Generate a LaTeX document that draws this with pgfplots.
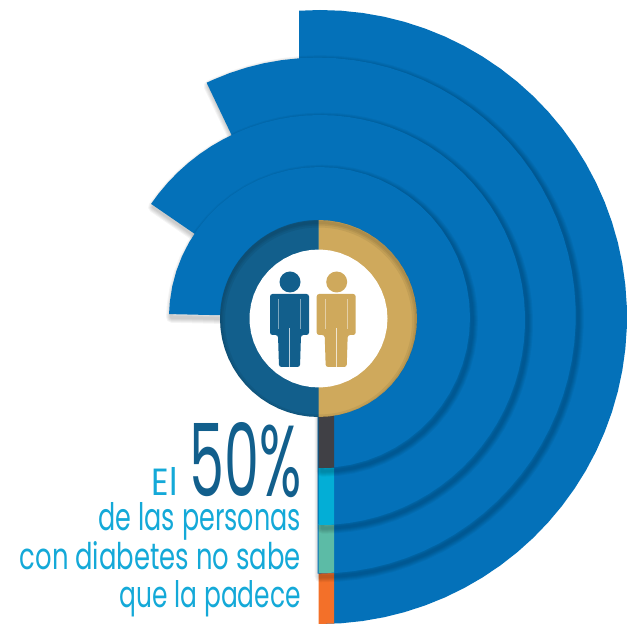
\documentclass[border=0pt]{standalone}
\usepackage{pgfplots}
\usepackage{pgfplotstable}
\usepackage{fontspec}
\pgfplotsset{compat=1.18}
\setmainfont{Poppins}

\definecolor{barblue}{HTML}{0471B9}
\definecolor{darkblue}{HTML}{125F8C}
\definecolor{gold}{HTML}{CFA95C}
\definecolor{textcyan}{HTML}{14A9D8}
\definecolor{stubgray}{HTML}{404045}
\definecolor{stubcyan}{HTML}{03AED6}
\definecolor{stubteal}{HTML}{5CBBA6}
\definecolor{stuborange}{HTML}{F37029}

% Radial bars as wedges: angle in degrees, radius in points.
\pgfplotstableread[row sep=\\]{a r\\ 0 0\\
-90 307\\ -86 307\\ -82 307\\ -78 307\\ -74 307\\ -70 307\\ -66 307\\ -62 307\\ -58 307\\ -54 307\\
-50 307\\ -46 307\\ -42 307\\ -38 307\\ -34 307\\ -30 307\\ -26 307\\ -22 307\\ -18 307\\ -14 307\\
-10 307\\ -6 307\\ -2 307\\ 2 307\\ 6 307\\ 10 307\\ 14 307\\ 18 307\\ 22 307\\ 26 307\\
30 307\\ 34 307\\ 38 307\\ 42 307\\ 46 307\\ 50 307\\ 54 307\\ 58 307\\ 62 307\\ 66 307\\
70 307\\ 74 307\\ 78 307\\ 82 307\\ 86 307\\ 90 307\\ 93.9 307\\ 94.6 259.9\\
}\barD
\pgfplotstableread[row sep=\\]{a r\\ 0 0\\
-90 258\\ -86 258\\ -82 258\\ -78 258\\ -74 258\\ -70 258\\ -66 258\\ -62 258\\ -58 258\\ -54 258\\
-50 258\\ -46 258\\ -42 258\\ -38 258\\ -34 258\\ -30 258\\ -26 258\\ -22 258\\ -18 258\\ -14 258\\
-10 258\\ -6 258\\ -2 258\\ 2 258\\ 6 258\\ 10 258\\ 14 258\\ 18 258\\ 22 258\\ 26 258\\
30 258\\ 34 258\\ 38 258\\ 42 258\\ 46 258\\ 50 258\\ 54 258\\ 58 258\\ 62 258\\ 66 258\\
70 258\\ 74 258\\ 78 258\\ 82 258\\ 86 258\\ 90 258\\ 94 258\\ 98 258\\ 102 258\\ 106 258\\
110 258\\ 114 258\\ 115.5 258\\
}\barC
\pgfplotstableread[row sep=\\]{a r\\ 0 0\\
-90 205\\ -86 205\\ -82 205\\ -78 205\\ -74 205\\ -70 205\\ -66 205\\ -62 205\\ -58 205\\ -54 205\\
-50 205\\ -46 205\\ -42 205\\ -38 205\\ -34 205\\ -30 205\\ -26 205\\ -22 205\\ -18 205\\ -14 205\\
-10 205\\ -6 205\\ -2 205\\ 2 205\\ 6 205\\ 10 205\\ 14 205\\ 18 205\\ 22 205\\ 26 205\\
30 205\\ 34 205\\ 38 205\\ 42 205\\ 46 205\\ 50 205\\ 54 205\\ 58 205\\ 62 205\\ 66 205\\
70 205\\ 74 205\\ 78 205\\ 82 205\\ 86 205\\ 90 205\\ 94 205\\ 98 205\\ 102 205\\ 106 205\\
110 205\\ 114 205\\ 118 205\\ 122 205\\ 126 205\\ 130 205\\ 134 205\\ 138 205\\ 142 205\\ 145.5 205\\
}\barB
\pgfplotstableread[row sep=\\]{a r\\ 0 0\\
-90 150.5\\ -84 150.5\\ -78 150.5\\ -72 150.5\\ -66 150.5\\ -60 150.5\\ -54 150.5\\ -48 150.5\\
-42 150.5\\ -36 150.5\\ -30 150.5\\ -24 150.5\\ -18 150.5\\ -12 150.5\\ -6 150.5\\ 0 150.5\\
6 150.5\\ 12 150.5\\ 18 150.5\\ 24 150.5\\ 30 150.5\\ 36 150.5\\ 42 150.5\\ 48 150.5\\
54 150.5\\ 60 150.5\\ 66 150.5\\ 72 150.5\\ 78 150.5\\ 84 150.5\\ 90 150.5\\ 96 150.5\\
102 150.5\\ 108 150.5\\ 114 150.5\\ 120 150.5\\ 126 150.5\\ 132 150.5\\ 138 150.5\\ 144 150.5\\
150 150.5\\ 156 150.5\\ 162 150.5\\ 168 150.5\\ 174 150.5\\ 178.7 150.5\\
}\barA

% Central ring: two equal halves.
\pgfplotstableread[row sep=\\]{a r\\ 0 0\\
-90 98.5\\ -84 98.5\\ -78 98.5\\ -72 98.5\\ -66 98.5\\ -60 98.5\\ -54 98.5\\ -48 98.5\\
-42 98.5\\ -36 98.5\\ -30 98.5\\ -24 98.5\\ -18 98.5\\ -12 98.5\\ -6 98.5\\ 0 98.5\\
6 98.5\\ 12 98.5\\ 18 98.5\\ 24 98.5\\ 30 98.5\\ 36 98.5\\ 42 98.5\\ 48 98.5\\
54 98.5\\ 60 98.5\\ 66 98.5\\ 72 98.5\\ 78 98.5\\ 84 98.5\\ 90 98.5\\
}\ringRight
\pgfplotstableread[row sep=\\]{a r\\ 0 0\\
90 98.5\\ 96 98.5\\ 102 98.5\\ 108 98.5\\ 114 98.5\\ 120 98.5\\ 126 98.5\\ 132 98.5\\
138 98.5\\ 144 98.5\\ 150 98.5\\ 156 98.5\\ 162 98.5\\ 168 98.5\\ 174 98.5\\ 180 98.5\\
186 98.5\\ 192 98.5\\ 198 98.5\\ 204 98.5\\ 210 98.5\\ 216 98.5\\ 222 98.5\\ 228 98.5\\
234 98.5\\ 240 98.5\\ 246 98.5\\ 252 98.5\\ 258 98.5\\ 264 98.5\\ 270 98.5\\
}\ringLeft
\pgfplotstableread[row sep=\\]{a r\\
0 69\\ 8 69\\ 16 69\\ 24 69\\ 32 69\\ 40 69\\ 48 69\\ 56 69\\ 64 69\\ 72 69\\ 80 69\\ 88 69\\
96 69\\ 104 69\\ 112 69\\ 120 69\\ 128 69\\ 136 69\\ 144 69\\ 152 69\\ 160 69\\ 168 69\\ 176 69\\
184 69\\ 192 69\\ 200 69\\ 208 69\\ 216 69\\ 224 69\\ 232 69\\ 240 69\\ 248 69\\ 256 69\\ 264 69\\
272 69\\ 280 69\\ 288 69\\ 296 69\\ 304 69\\ 312 69\\ 320 69\\ 328 69\\ 336 69\\ 344 69\\ 352 69\\
}\ringHole

\pgfplotsset{
  wedge/.style={data cs=polar, draw=none, no markers, forget plot},
  shade line/.style={data cs=polar, draw=black, fill=none, no markers, forget plot,
    line join=round, opacity=0.045},
}
% Soft edge under a wedge: #1 table, #2 and #3 offsets of the shade from the axis origin.
\newcommand\softedge[3]{%
  \addplot[shade line, line width=11pt, xshift=#2pt, yshift=#3pt] table[x=a,y=r] {#1} -- cycle;
  \addplot[shade line, line width=9pt, xshift=#2pt, yshift=#3pt] table[x=a,y=r] {#1} -- cycle;
  \addplot[shade line, line width=7pt, xshift=#2pt, yshift=#3pt] table[x=a,y=r] {#1} -- cycle;
  \addplot[shade line, line width=5pt, xshift=#2pt, yshift=#3pt] table[x=a,y=r] {#1} -- cycle;
  \addplot[shade line, line width=3pt, xshift=#2pt, yshift=#3pt] table[x=a,y=r] {#1} -- cycle;
}
% One figure of the pair, at left edge #1 in colour #2.
\newcommand\figureicon[2]{%
  \fill[#2] (#1+20,282) circle[radius=10.5];
  \fill[#2, rounded corners=2.5]
    (#1,294) -- (#1+39,294) -- (#1+39,335) -- (#1+31,335) -- (#1+30,367) -- (#1+9,367)
    -- (#1+8,335) -- (#1,335) -- cycle;
  \draw[white, opacity=.45, line width=1.1] (#1+8.5,299) -- (#1+8.5,329);
  \draw[white, opacity=.45, line width=1.1] (#1+30.5,299) -- (#1+30.5,329);
  \draw[white, opacity=.7, line width=1.2] (#1+19.5,328) -- (#1+19.5,367.5);
}

\begin{document}
\begin{tikzpicture}
\useasboundingbox (0,0) rectangle (628pt,629pt);
\begin{axis}[
  at={(0,0)}, anchor=south west,
  x=1pt, y=1pt,
  xmin=-320, xmax=308, ymin=-312, ymax=317,
  hide axis,
]
  % Outermost bar first; each inner wedge covers the one before it.
  \addplot[wedge, fill=barblue] table[x=a,y=r] {\barD} -- cycle;
  \addplot[wedge, fill=stuborange, data cs=cart] coordinates {(-1.5,-256)(14,-256)(14,-306.5)(-1.5,-307)} -- cycle;

  \softedge{\barC}{0.2}{-1.8}
  \addplot[wedge, fill=barblue, xshift=-2.3pt, yshift=1.4pt] table[x=a,y=r] {\barC} -- cycle;
  \addplot[wedge, fill=stubteal, data cs=cart] coordinates {(-1.5,-207)(14,-207)(14,-255.7)(-1.5,-256)} -- cycle;

  \softedge{\barB}{2.5}{-6.2}
  \addplot[wedge, fill=barblue, yshift=-3pt] table[x=a,y=r] {\barB} -- cycle;
  \addplot[wedge, fill=stubcyan, data cs=cart] coordinates {(-1.5,-151)(14,-151)(14,-207.7)(-1.5,-208)} -- cycle;

  \softedge{\barA}{2}{-3.7}
  \addplot[wedge, fill=barblue, xshift=-0.5pt, yshift=-0.5pt] table[x=a,y=r] {\barA} -- cycle;
  \addplot[wedge, fill=stubgray, data cs=cart] coordinates {(-1.5,-98)(14,-98)(14,-150.7)(-1.5,-151)} -- cycle;

  % Central ring and its inner shade, heavier towards the top.
  \addplot[wedge, fill=darkblue, xshift=-1.5pt, yshift=-1.5pt] table[x=a,y=r] {\ringLeft} -- cycle;
  \addplot[wedge, fill=gold, xshift=-1.5pt, yshift=-1.5pt] table[x=a,y=r] {\ringRight} -- cycle;
  \begin{scope}
    \clip (axis cs:-1.5,-1.5) circle[radius=98.5pt];
    \draw[black, opacity=.06, line width=10pt] (axis cs:-1.5,-4) circle[radius=98.5pt];
    \draw[black, opacity=.06, line width=6pt] (axis cs:-1.5,-4) circle[radius=98.5pt];
    \draw[black, opacity=.06, line width=3pt] (axis cs:-1.5,-4) circle[radius=98.5pt];
  \end{scope}
  \addplot[wedge, fill=white, xshift=-1.5pt, yshift=-1.5pt] table[x=a,y=r] {\ringHole} -- cycle;
\end{axis}

% Pair of figures and the caption, placed in pixel-style coordinates from the top left.
\begin{scope}[x=1pt, y=-1pt, yshift=629pt]
  \figureicon{270}{darkblue}
  \figureicon{316.7}{gold}

  \node[anchor=base east, inner sep=0, text=textcyan] at (178,496) {\resizebox{26pt}{28pt}{El}};
  \node[anchor=base east, inner sep=0, text=darkblue] at (302,497) {\resizebox{112pt}{74pt}{50\%}};
  \node[anchor=base east, inner sep=0, text=textcyan] at (301,531) {\resizebox{202pt}{28pt}{de las personas}};
  \node[anchor=base east, inner sep=0, text=textcyan] at (301,570) {\resizebox{281pt}{28pt}{con diabetes no sabe}};
  \node[anchor=base east, inner sep=0, text=textcyan] at (301,607) {\resizebox{181pt}{27pt}{que la padece}};
\end{scope}
\end{tikzpicture}
\end{document}
